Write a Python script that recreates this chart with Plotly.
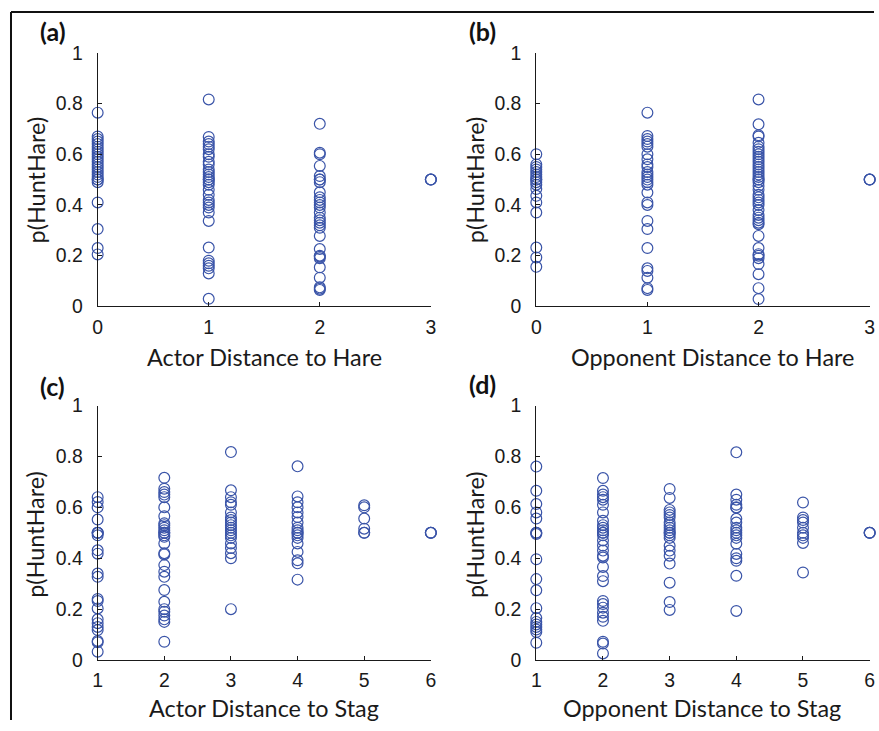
import plotly.graph_objects as go

# ---------------- data ----------------
# Panel (a): Actor distance to hare
a_d0 = [0.764, 0.67, 0.66, 0.65, 0.64, 0.63, 0.62, 0.61, 0.60, 0.59, 0.58, 0.57, 0.56, 0.55,
        0.54, 0.53, 0.52, 0.51, 0.50, 0.50, 0.49, 0.41, 0.305, 0.23, 0.205]
a_d1 = [0.816, 0.668, 0.65, 0.64, 0.63, 0.62, 0.60, 0.59, 0.57, 0.56, 0.54, 0.53, 0.52, 0.51,
        0.50, 0.50, 0.49, 0.48, 0.46, 0.44, 0.42, 0.41, 0.40, 0.39, 0.37, 0.337, 0.232, 0.18,
        0.17, 0.16, 0.15, 0.13, 0.03]
a_d2 = [0.72, 0.606, 0.60, 0.554, 0.514, 0.50, 0.50, 0.49, 0.45, 0.43, 0.42, 0.41, 0.40, 0.39,
        0.37, 0.35, 0.34, 0.33, 0.32, 0.31, 0.278, 0.226, 0.20, 0.196, 0.19, 0.154, 0.113,
        0.075, 0.07, 0.065]
a_d3 = [0.5, 0.5, 0.5]

# Panel (b): Opponent distance to hare
b_d0 = [0.60, 0.56, 0.55, 0.54, 0.53, 0.52, 0.51, 0.50, 0.50, 0.49, 0.48, 0.463, 0.436, 0.41,
        0.37, 0.232, 0.193, 0.156]
b_d1 = [0.764, 0.672, 0.66, 0.65, 0.64, 0.63, 0.60, 0.58, 0.56, 0.55, 0.53, 0.52, 0.51, 0.50,
        0.49, 0.48, 0.449, 0.41, 0.40, 0.337, 0.305, 0.23, 0.15, 0.14, 0.113, 0.072, 0.065]
b_d2 = [0.816, 0.718, 0.675, 0.67, 0.645, 0.63, 0.62, 0.61, 0.60, 0.59, 0.58, 0.57, 0.56, 0.55,
        0.54, 0.53, 0.52, 0.51, 0.50, 0.50, 0.49, 0.475, 0.46, 0.44, 0.43, 0.42, 0.41, 0.40,
        0.38, 0.36, 0.35, 0.34, 0.33, 0.324, 0.278, 0.23, 0.206, 0.20, 0.19, 0.167, 0.127,
        0.072, 0.029]
b_d3 = [0.5, 0.5, 0.5]

# Panel (c): Actor distance to stag
c_d1 = [0.64, 0.621, 0.60, 0.552, 0.50, 0.50, 0.50, 0.49, 0.431, 0.418, 0.34, 0.327, 0.24,
        0.232, 0.203, 0.16, 0.145, 0.13, 0.118, 0.075, 0.07, 0.033]
c_d2 = [0.716, 0.673, 0.66, 0.65, 0.64, 0.60, 0.565, 0.537, 0.53, 0.52, 0.51, 0.50, 0.50, 0.49,
        0.484, 0.458, 0.42, 0.415, 0.373, 0.347, 0.327, 0.275, 0.229, 0.20, 0.19, 0.175, 0.16,
        0.15, 0.072]
c_d3 = [0.817, 0.667, 0.64, 0.62, 0.61, 0.58, 0.56, 0.55, 0.54, 0.53, 0.52, 0.51, 0.50, 0.49,
        0.48, 0.458, 0.44, 0.42, 0.40, 0.20]
c_d4 = [0.761, 0.643, 0.62, 0.60, 0.58, 0.562, 0.54, 0.52, 0.51, 0.50, 0.50, 0.49, 0.48, 0.458,
        0.425, 0.392, 0.38, 0.316]
c_d5 = [0.608, 0.600, 0.556, 0.516, 0.50, 0.50]
c_d6 = [0.5, 0.5, 0.5]

# Panel (d): Opponent distance to stag
d_d1 = [0.76, 0.665, 0.613, 0.58, 0.556, 0.50, 0.50, 0.495, 0.396, 0.318, 0.274, 0.204, 0.165,
        0.15, 0.14, 0.13, 0.12, 0.11, 0.068]
d_d2 = [0.715, 0.665, 0.65, 0.64, 0.63, 0.61, 0.58, 0.547, 0.53, 0.52, 0.51, 0.50, 0.50, 0.49,
        0.47, 0.45, 0.43, 0.41, 0.403, 0.366, 0.33, 0.31, 0.232, 0.22, 0.206, 0.186, 0.17,
        0.154, 0.072, 0.065, 0.026]
d_d3 = [0.672, 0.637, 0.59, 0.58, 0.57, 0.56, 0.54, 0.53, 0.52, 0.51, 0.50, 0.50, 0.49, 0.48,
        0.449, 0.43, 0.41, 0.379, 0.304, 0.228, 0.197]
d_d4 = [0.816, 0.65, 0.63, 0.61, 0.60, 0.598, 0.555, 0.54, 0.52, 0.51, 0.50, 0.49, 0.48, 0.457,
        0.417, 0.40, 0.39, 0.331, 0.193]
d_d5 = [0.619, 0.56, 0.55, 0.54, 0.52, 0.50, 0.49, 0.48, 0.46, 0.344]
d_d6 = [0.5, 0.5, 0.5]

panel_a = {0: a_d0, 1: a_d1, 2: a_d2, 3: a_d3}
panel_b = {0: b_d0, 1: b_d1, 2: b_d2, 3: b_d3}
panel_c = {1: c_d1, 2: c_d2, 3: c_d3, 4: c_d4, 5: c_d5, 6: c_d6}
panel_d = {1: d_d1, 2: d_d2, 3: d_d3, 4: d_d4, 5: d_d5, 6: d_d6}

x_titles = ["Actor Distance to Hare", "Opponent Distance to Hare",
            "Actor Distance to Stag", "Opponent Distance to Stag"]
y_title = "p(HuntHare)"
panel_labels = ["(a)", "(b)", "(c)", "(d)"]
y_ticks = [0, 0.2, 0.4, 0.6, 0.8, 1]
y_ticklabels = ["0", "0.2", "0.4", "0.6", "0.8", "1"]

# ---------------- figure ----------------
W, H = 879, 731
BLUE = "#3a54a8"
AXC = "#1a1a1a"
TICKFONT = dict(family="Liberation Sans, Arial, sans-serif", size=19.4, color="#1a1a1a")
TITLEFONT = dict(family="Lato, Open Sans, sans-serif", size=23.4, color="#1a1a1a")
LABELFONT = dict(family="Lato, Open Sans, sans-serif", size=25, color="#111")

# the delivered picture is the page slightly shrunk & centred; map target px -> page px
SX, OX = 0.989, 5.0
SY, OY = 0.9716, 9.8

def px_x(p):
    return ((p - OX) / SX) / W

def px_y(p):
    return 1 - ((p - OY) / SY) / H

# domains (target pixel positions measured on the reference)
x_dom_left = [px_x(97.7), px_x(431)]
x_dom_right = [px_x(536.5), px_x(870)]
y_dom_top = [px_y(305.7), px_y(51.7)]
y_dom_bot = [px_y(660), px_y(405)]

panels = [panel_a, panel_b, panel_c, panel_d]
xdoms = [x_dom_left, x_dom_right, x_dom_left, x_dom_right]
ydoms = [y_dom_top, y_dom_top, y_dom_bot, y_dom_bot]
xranges = [[0, 3], [0, 3], [1, 6], [1, 6]]

# title / label target positions (px, on reference)
xtitle_pos = [(264.5, 356), (713, 356), (264, 708), (702.5, 708)]
ytitle_pos = [(35.5, 179), (475.5, 179), (35.5, 534), (475, 534)]
label_pos = [(38, 30.3), (467, 30.3), (38, 385), (467, 383)]

fig = go.Figure()
layout = dict(width=W, height=H, margin=dict(l=0, r=0, t=0, b=0),
              paper_bgcolor="white", plot_bgcolor="white", showlegend=False)

for i, panel in enumerate(panels):
    n = "" if i == 0 else str(i + 1)
    xs, ys = [], []
    for d, vals in panel.items():
        xs += [d] * len(vals)
        ys += vals
    fig.add_trace(go.Scatter(
        x=xs, y=ys, mode="markers", xaxis="x" + n, yaxis="y" + n,
        cliponaxis=False,
        marker=dict(symbol="circle-open", size=10.8, color=BLUE, line=dict(width=1.2, color=BLUE)),
    ))
    lo, hi = xranges[i]
    layout["xaxis" + n] = dict(
        domain=xdoms[i], anchor="y" + n, range=[lo, hi],
        tickmode="array", tickvals=list(range(lo, hi + 1)),
        showline=True, linecolor=AXC, linewidth=1, ticks="inside", ticklen=4,
        tickcolor=AXC, showgrid=False, zeroline=False, tickfont=TICKFONT,
        ticklabelstandoff=3, fixedrange=True,
    )
    layout["yaxis" + n] = dict(
        domain=ydoms[i], anchor="x" + n, range=[0, 1],
        tickmode="array", tickvals=y_ticks, ticktext=y_ticklabels,
        showline=True, linecolor=AXC, linewidth=1, ticks="inside", ticklen=4,
        tickcolor=AXC, showgrid=False, zeroline=False, tickfont=TICKFONT,
        ticklabelstandoff=10, fixedrange=True,
    )
    tx, ty = xtitle_pos[i]
    fig.add_annotation(text=x_titles[i], x=px_x(tx), y=px_y(ty), xref="paper", yref="paper",
                       xanchor="center", yanchor="middle", showarrow=False, font=TITLEFONT)
    yx, yy = ytitle_pos[i]
    fig.add_annotation(text=y_title, x=px_x(yx), y=px_y(yy), xref="paper", yref="paper",
                       xanchor="center", yanchor="middle", textangle=-90,
                       showarrow=False, font=TITLEFONT)
    lx, ly = label_pos[i]
    fig.add_annotation(text="<b>" + panel_labels[i] + "</b>", x=px_x(lx), y=px_y(ly),
                       xref="paper", yref="paper", xanchor="left", yanchor="middle",
                       showarrow=False, font=LABELFONT)

fig.update_layout(**layout)

# figure frame (left and top edges)
fx = px_x(11)
fig.add_shape(type="line", xref="paper", yref="paper", x0=fx, x1=fx,
              y0=0, y1=1 - 1 / H, line=dict(color="#111", width=2))
fig.add_shape(type="line", xref="paper", yref="paper", x0=fx, x1=1,
              y0=1 - 1 / H, y1=1 - 1 / H, line=dict(color="#111", width=2))

post = ("document.body.style.margin='0';document.body.style.overflow='hidden';")
fig.write_html("out.html", config={"displayModeBar": False}, post_script=post)
